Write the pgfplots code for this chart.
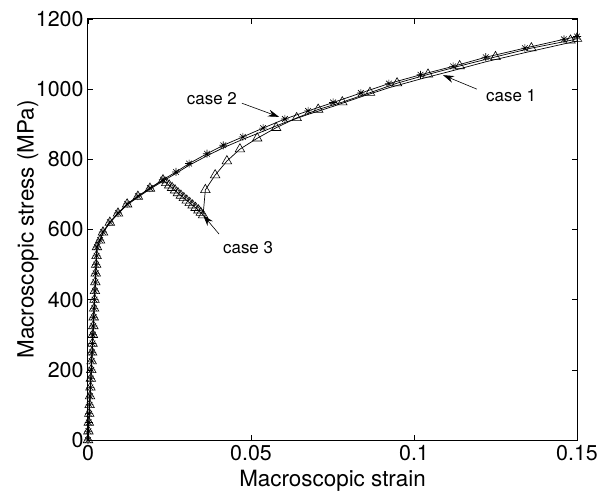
\documentclass[border=0pt]{standalone}
\usepackage{fontspec}
\setmainfont{TeX Gyre Heros}
\usepackage{pgfplots}
\pgfplotsset{compat=1.18}
\usetikzlibrary{arrows.meta}
\pgfdeclareplotmark{mstar}{%
 \pgfpathmoveto{\pgfqpoint{-\pgfplotmarksize}{0pt}}\pgfpathlineto{\pgfqpoint{\pgfplotmarksize}{0pt}}%
 \pgfpathmoveto{\pgfqpoint{0pt}{-\pgfplotmarksize}}\pgfpathlineto{\pgfqpoint{0pt}{\pgfplotmarksize}}%
 \pgfpathmoveto{\pgfqpoint{-.707\pgfplotmarksize}{-.707\pgfplotmarksize}}\pgfpathlineto{\pgfqpoint{.707\pgfplotmarksize}{.707\pgfplotmarksize}}%
 \pgfpathmoveto{\pgfqpoint{-.707\pgfplotmarksize}{.707\pgfplotmarksize}}\pgfpathlineto{\pgfqpoint{.707\pgfplotmarksize}{-.707\pgfplotmarksize}}%
 \pgfusepathqstroke}
\begin{document}
\begin{tikzpicture}
\begin{axis}[name=ax, scale only axis, width=489bp, height=421bp,
  xmin=0, xmax=0.15, ymin=0, ymax=1200,
  xtick={0,0.05,0.1,0.15}, xticklabels={0,0.05,0.1,0.15},
  ytick={0,200,400,600,800,1000,1200},
  /pgf/number format/assume math mode=true,
  /pgf/number format/1000 sep={},
  tick align=inside, major tick length=5bp,
  tick style={black, line width=0.6bp},
  axis line style={line width=1bp},
  ticklabel style={font=\fontsize{21.5}{24}\selectfont},
  xticklabel style={yshift=-2bp},
  yticklabel style={xshift=-1bp},
  label style={font=\fontsize{22.5}{26}\selectfont},
  xlabel={Macroscopic strain}, ylabel={Macroscopic stress (MPa)},
  xlabel style={at={(axis description cs:0.5,-0.097)}, anchor=center},
  ylabel style={at={(axis description cs:-0.1227,0.5)}, anchor=center},
  clip=false]
% case 1 (plain line, lowest)
\addplot[black, line width=0.7bp, mark=none] coordinates {
(0,0) (0.00275,550) (0.0037,568) (0.0046,591) (0.0067,619) (0.0092,645) (0.012,670)
(0.0153,692) (0.019,715) (0.023,738) (0.027,760) (0.031,783) (0.0365,810) (0.0415,833)
(0.0475,857) (0.0537,880) (0.0604,905) (0.0675,928) (0.0752,951) (0.0837,978)
(0.0923,1004) (0.102,1029) (0.112,1053) (0.122,1078) (0.134,1104) (0.146,1129) (0.15,1137)};
% case 2 (asterisks, top)
\addplot[black, line width=0.7bp, mark=mstar, mark size=4bp, mark options={line width=0.6bp}] coordinates {
(0,0) (0.000125,25) (0.00025,50) (0.000375,75) (0.0005,100) (0.000625,125) (0.00075,150)
(0.000875,175) (0.001,200) (0.001125,225) (0.00125,250) (0.001375,275) (0.0015,300)
(0.001625,325) (0.00175,350) (0.001875,375) (0.002,400) (0.002125,425) (0.00225,450)
(0.002375,475) (0.0025,500) (0.002625,525) (0.00275,550)
(0.0037,570) (0.0046,593) (0.0067,621) (0.0092,647) (0.012,673) (0.0153,695) (0.019,718)
(0.023,742) (0.027,764) (0.031,788) (0.0365,816) (0.0415,840) (0.0475,864) (0.0537,889)
(0.0604,915) (0.0675,938) (0.0752,962) (0.0837,989) (0.0923,1016) (0.102,1041)
(0.112,1065) (0.122,1091) (0.134,1117) (0.146,1142) (0.15,1150)};
% case 3 (triangles, with unloading dip)
\addplot[black, line width=0.7bp, mark=triangle, mark size=5.5bp, mark options={line width=0.6bp}] coordinates {
(0,0) (0.000125,25) (0.00025,50) (0.000375,75) (0.0005,100) (0.000625,125) (0.00075,150)
(0.000875,175) (0.001,200) (0.001125,225) (0.00125,250) (0.001375,275) (0.0015,300)
(0.001625,325) (0.00175,350) (0.001875,375) (0.002,400) (0.002125,425) (0.00225,450)
(0.002375,475) (0.0025,500) (0.002625,525) (0.00275,550)
(0.0037,569) (0.0046,592) (0.0067,620) (0.0092,646) (0.012,672) (0.0153,694) (0.019,717)
(0.023,741)
(0.0240,733) (0.0249,726) (0.0258,719) (0.0267,712) (0.0276,704) (0.0285,697) (0.0294,690)
(0.0303,683) (0.0312,676) (0.0321,669) (0.0330,662) (0.0339,655) (0.0346,648) (0.0353,641)
(0.036,713) (0.039,755) (0.0426,795) (0.0466,829) (0.0519,860) (0.0577,890) (0.064,918)
(0.0706,942) (0.078,963) (0.0865,990) (0.0948,1017) (0.1043,1042) (0.114,1066)
(0.125,1092) (0.136,1117) (0.148,1139) (0.15,1144)};
% annotations
\node[font=\fontsize{17}{20}\selectfont] at (axis cs:0.038,972) {case 2};
\draw[-{Stealth[length=11bp,width=7bp]}, line width=0.6bp] (axis cs:0.0472,960) -- (axis cs:0.0586,921);
\node[font=\fontsize{17}{20}\selectfont] at (axis cs:0.1298,983) {case 1};
\draw[-{Stealth[length=11bp,width=7bp]}, line width=0.6bp] (axis cs:0.1193,1000) -- (axis cs:0.1089,1040);
\node[font=\fontsize{17}{20}\selectfont] at (axis cs:0.0491,547) {case 3};
\draw[-{Stealth[length=11bp,width=7bp]}, line width=0.6bp] (axis cs:0.0402,587) -- (axis cs:0.0353,641);
\end{axis}
\pgfresetboundingbox
\path ([shift={(-88bp,-54bp)}]ax.south west) rectangle ([shift={(20bp,19bp)}]ax.north east);
\end{tikzpicture}
\end{document}
